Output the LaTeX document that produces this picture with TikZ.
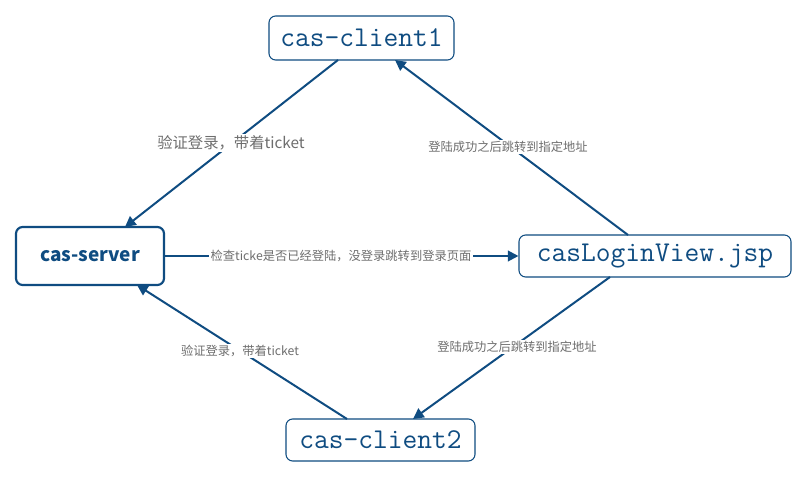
\documentclass[tikz,border=0pt]{standalone}
\usepackage{fontspec}
\newfontfamily\cjk{Noto Sans CJK SC}
\usetikzlibrary{arrows.meta}
\definecolor{nb}{HTML}{0F4C81}
\definecolor{lg}{HTML}{6E6E6E}
\begin{document}
\begin{tikzpicture}[x=0.75pt,y=-0.75pt,
  box/.style={draw=nb,rounded corners=5pt,fill=white,text=nb,inner sep=0pt,line width=0.8pt},
  conn/.style={draw=nb,line width=1.5pt,-{Triangle[length=8pt,width=8pt]}},
  lbl/.style={fill=white,text=lg,inner sep=1pt,font=\cjk\fontsize{9.2}{11}\selectfont}]
\useasboundingbox (0,0) rectangle (807,477);
\node[box,minimum width=185*0.75pt,minimum height=44*0.75pt,font=\ttfamily\fontsize{21.5}{24}\selectfont] (c1) at (361.5,38) {cas-client1};
\node[box,line width=1.6pt,minimum width=148*0.75pt,minimum height=58*0.75pt,font=\cjk\bfseries\fontsize{14.2}{16}\selectfont] (s) at (90,256) {cas-server};
\node[box,minimum width=272*0.75pt,minimum height=42*0.75pt,font=\ttfamily\fontsize{21.5}{24}\selectfont] (v) at (655,256) {casLoginView.jsp};
\node[box,minimum width=189*0.75pt,minimum height=42*0.75pt,font=\ttfamily\fontsize{21.5}{24}\selectfont] (c2) at (380.5,440) {cas-client2};
\coordinate (c1a) at (338,60); \coordinate (c1b) at (395,60);
\coordinate (sa) at (125,227); \coordinate (sb) at (137,285);
\coordinate (va) at (628,235); \coordinate (vb) at (610,277);
\coordinate (c2a) at (347,419); \coordinate (c2b) at (413,419);
\draw[conn] (c1a) -- (sa);
\draw[conn] (va) -- (c1b);
\draw[conn] (s.east) -- (v.west);
\draw[conn] (c2a) -- (sb);
\draw[conn] (vb) -- (c2b);
\node[lbl,font=\cjk\fontsize{11.5}{13}\selectfont] (l1) at (231,143) {验证登录，带着ticket};
\node[lbl] (l2) at (508,147) {登陆成功之后跳转到指定地址};
\node[lbl] (l3) at (341,256) {检查ticke是否已经登陆，没登录跳转到登录页面};
\node[lbl] (l4) at (240,351) {验证登录，带着ticket};
\node[lbl] (l5) at (517,347) {登陆成功之后跳转到指定地址};
\end{tikzpicture}
\end{document}
